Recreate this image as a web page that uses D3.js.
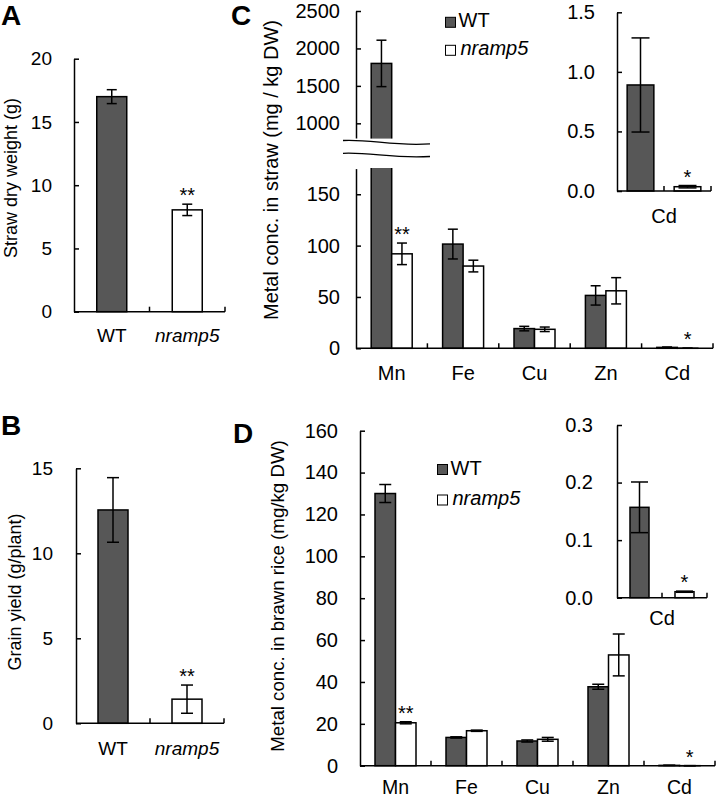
<!DOCTYPE html>
<html><head><meta charset="utf-8">
<script src="https://cdn.jsdelivr.net/npm/d3@7"></script>
<style>
body{margin:0;background:#fff}
svg{display:block}
text{font-family:Arial,"Liberation Sans",Helvetica,sans-serif;fill:#000}
</style>
</head><body>
<svg id="c" width="717" height="799"></svg>
<script>
// ---------- data ----------
const genotypes = ["WT", "nramp5"];
const strawWeight = [17.0, 8.05];
const strawWeightErr = [0.55, 0.45];
const strawWeightSig = ["", "**"];
const grainYield = [12.55, 1.42];
const grainYieldErr = [1.9, 0.83];
const grainYieldSig = ["", "**"];

const metals = ["Mn", "Fe", "Cu", "Zn", "Cd"];
const strawWT = [1800, 101.5, 19.2, 51.5, 0.89];
const strawWTErr = [310, 14.5, 2.2, 9.4, 0.395];
const strawMut = [92, 80.1, 18.5, 56, 0.036];
const strawMutErr = [10.5, 5.7, 2.2, 12.8, 0.01];
const strawMutSig = ["**", "", "", "", "*"];

const riceWT = [130, 13.5, 11.8, 37.7, 0.157];
const riceWTErr = [4.3, 0.3, 0.5, 1.2, 0.044];
const riceMut = [20.5, 16.7, 12.6, 52.9, 0.0104];
const riceMutErr = [0.5, 0.3, 0.9, 10, 0.001];
const riceMutSig = ["**", "", "", "", "*"];

const ticksA = [0, 5, 10, 15, 20];
const ticksB = [0, 5, 10, 15];
const ticksCLow = [0, 50, 100, 150];
const ticksCHigh = [1000, 1500, 2000, 2500];
const ticksCInset = [0, 0.5, 1.0, 1.5];
const ticksD = [0, 20, 40, 60, 80, 100, 120, 140, 160];
const ticksDInset = [0, 0.1, 0.2, 0.3];

const DARK = "#575757";
const svg = d3.select("#c");

// ---------- helpers ----------
function yAxis(g, scale, x, ticks, fmt, pad, fs) {
  const ax = g.append("g").attr("transform", `translate(${x},0)`)
    .call(d3.axisLeft(scale).tickValues(ticks).tickFormat(fmt)
      .tickSize(-5).tickSizeOuter(0).tickPadding(pad));
  ax.attr("font-family", null).attr("font-size", null);
  ax.selectAll("path,line").attr("stroke", "#000").attr("stroke-width", 1.5);
  ax.selectAll("text").attr("font-size", fs).style("fill", "#000");
  return ax;
}

function xAxis(g, band, y0) {
  const r = band.range();
  g.append("line").attr("x1", r[0]).attr("x2", r[1]).attr("y1", y0).attr("y2", y0)
    .attr("stroke", "#000").attr("stroke-width", 1.5);
  const bounds = d3.range(1, band.domain().length + 1).map(i => r[0] + i * band.step());
  g.selectAll(null).data(bounds).join("line")
    .attr("x1", d => d).attr("x2", d => d).attr("y1", y0).attr("y2", y0 - 5)
    .attr("stroke", "#000").attr("stroke-width", 1.5);
}

function bars(g, band, y, groups, barW, capW, starFs) {
  const n = groups.length;
  groups.forEach((s, si) => {
    const data = band.domain().map((c, i) => ({
      c, v: s.vals[i], e: s.errs[i],
      fill: typeof s.fill === "function" ? s.fill(i) : s.fill,
      star: s.stars ? s.stars[i] : ""
    }));
    const xl = d => band(d.c) + band.bandwidth() / 2 - n * barW / 2 + si * barW;
    const xc = d => xl(d) + barW / 2;
    g.selectAll(null).data(data).join("rect")
      .attr("x", xl).attr("width", barW)
      .attr("y", d => y(d.v)).attr("height", d => y(0) - y(d.v))
      .attr("fill", d => d.fill).attr("stroke", "#000").attr("stroke-width", 1.5);
    const eg = g.selectAll(null).data(data).join("g");
    eg.append("line").attr("x1", xc).attr("x2", xc)
      .attr("y1", d => y(d.v + d.e)).attr("y2", d => y(Math.max(0, d.v - d.e)))
      .attr("stroke", "#000").attr("stroke-width", 1.5);
    eg.append("line").attr("x1", d => xc(d) - capW / 2).attr("x2", d => xc(d) + capW / 2)
      .attr("y1", d => y(d.v + d.e)).attr("y2", d => y(d.v + d.e))
      .attr("stroke", "#000").attr("stroke-width", 1.5);
    eg.append("line").attr("x1", d => xc(d) - capW / 2).attr("x2", d => xc(d) + capW / 2)
      .attr("y1", d => y(Math.max(0, d.v - d.e))).attr("y2", d => y(Math.max(0, d.v - d.e)))
      .attr("stroke", "#000").attr("stroke-width", 1.5);
    g.selectAll(null).data(data.filter(d => d.star)).join("text")
      .attr("x", xc).attr("y", d => y(d.v + d.e) - 2)
      .attr("text-anchor", "middle").attr("font-size", starFs).text(d => d.star);
  });
}

function catLabels(g, band, y, fs, italicIdx) {
  g.selectAll(null).data(band.domain()).join("text")
    .attr("x", d => band(d) + band.bandwidth() / 2).attr("y", y)
    .attr("text-anchor", "middle").attr("font-size", fs)
    .attr("font-style", (d, i) => italicIdx.includes(i) ? "italic" : "normal")
    .text(d => d);
}

function yTitle(g, text, x, y, fs) {
  g.append("text").attr("transform", `translate(${x},${y}) rotate(-90)`)
    .attr("text-anchor", "middle").attr("font-size", fs).text(text);
}

function letter(text, x, y) {
  svg.append("text").attr("x", x).attr("y", y).attr("font-size", 28)
    .attr("font-weight", "bold").text(text);
}

function legend(g, x, y1, y2, fs) {
  const items = [{ t: genotypes[0], f: DARK, y: y1, it: false }, { t: genotypes[1], f: "#fff", y: y2, it: true }];
  items.forEach(d => {
    g.append("rect").attr("x", x).attr("y", d.y - 10).attr("width", 10).attr("height", 10)
      .attr("fill", d.f).attr("stroke", "#000").attr("stroke-width", 1);
    g.append("text").attr("x", x + (d.it ? 15 : 13)).attr("y", d.y).attr("font-size", fs)
      .attr("font-style", d.it ? "italic" : "normal").text(d.t);
  });
}

const fillGeno = i => i === 0 ? DARK : "#fff";

// ---------- Panel A ----------
{
  const g = svg.append("g");
  const y = d3.scaleLinear().domain([0, 20]).range([311.7, 58.7]);
  const band = d3.scaleBand().domain(genotypes).range([74, 225]);
  bars(g, band, y, [{ vals: strawWeight, errs: strawWeightErr, fill: fillGeno, stars: strawWeightSig }], 30, 10, 20);
  xAxis(g, band, y(0));
  yAxis(g, y, 74, ticksA, d3.format("d"), 22, 19);
  catLabels(g, band, 342, 19, [1]);
  yTitle(g, "Straw dry weight (g)", 16.5, 178, 18);
  letter("A", 1, 25);
}

// ---------- Panel B ----------
{
  const g = svg.append("g");
  const y = d3.scaleLinear().domain([0, 15]).range([723.3, 468.3]);
  const band = d3.scaleBand().domain(genotypes).range([76, 224]);
  bars(g, band, y, [{ vals: grainYield, errs: grainYieldErr, fill: fillGeno, stars: grainYieldSig }], 30, 12, 20);
  xAxis(g, band, y(0));
  yAxis(g, y, 76, ticksB, d3.format("d"), 23, 19);
  catLabels(g, band, 755, 19, [1]);
  yTitle(g, "Grain yield (g/plant)", 21, 592, 18);
  letter("B", 1, 435);
}

// ---------- Panel C ----------
{
  const g = svg.append("g");
  const low = d3.scaleLinear().domain([0, 175]).range([348.3, 168.6]);
  const high = d3.scaleLinear().domain([800, 2500]).range([138.3, 11]);
  const y = v => v <= 175 ? low(v) : high(v);
  const band = d3.scaleBand().domain(metals).range([356, 713]);
  bars(g, band, y, [
    { vals: strawWT, errs: strawWTErr, fill: DARK },
    { vals: strawMut, errs: strawMutErr, fill: "#fff", stars: strawMutSig }
  ], 20.5, 10, 20);
  xAxis(g, band, low(0));
  yAxis(g, low, 356, ticksCLow, d3.format("d"), 16, 20);
  yAxis(g, high, 356, ticksCHigh, d3.format("d"), 16, 20);
  // axis break
  g.append("rect").attr("x", 345).attr("y", 138.6).attr("width", 80).attr("height", 29.4).attr("fill", "#fff");
  g.append("path").attr("d", "M343,140.5 C370,139 395,146.5 430,143.8")
    .attr("fill", "none").attr("stroke", "#000").attr("stroke-width", 1.3);
  g.append("path").attr("d", "M343,153.3 C370,152 395,159 430,156.5")
    .attr("fill", "none").attr("stroke", "#000").attr("stroke-width", 1.3);
  catLabels(g, band, 380, 20, []);
  yTitle(g, "Metal conc. in straw (mg / kg DW)", 278, 170, 20);
  legend(g, 445.5, 27.3, 55.3, 20);
  letter("C", 231, 25);

  // inset
  const gi = svg.append("g");
  const yi = d3.scaleLinear().domain([0, 1.5]).range([191, 12.3]);
  const bi = d3.scaleBand().domain(genotypes).range([617, 711]);
  bars(gi, bi, yi, [{ vals: [strawWT[4], strawMut[4]], errs: [strawWTErr[4], strawMutErr[4]], fill: fillGeno, stars: ["", strawMutSig[4]] }], 26.7, 18, 20);
  xAxis(gi, bi, yi(0));
  yAxis(gi, yi, 617, ticksCInset, d3.format(".1f"), 22, 20);
  gi.append("text").attr("x", 664).attr("y", 223).attr("text-anchor", "middle").attr("font-size", 20).text(metals[4]);
}

// ---------- Panel D ----------
{
  const g = svg.append("g");
  const y = d3.scaleLinear().domain([0, 160]).range([765.7, 430.7]);
  const band = d3.scaleBand().domain(metals).range([360, 715]);
  bars(g, band, y, [
    { vals: riceWT, errs: riceWTErr, fill: DARK },
    { vals: riceMut, errs: riceMutErr, fill: "#fff", stars: riceMutSig }
  ], 20.5, 12, 20);
  xAxis(g, band, y(0));
  yAxis(g, y, 360, ticksD, d3.format("d"), 22, 20);
  catLabels(g, band, 794, 19.5, []);
  yTitle(g, "Metal conc. in brawn rice (mg/kg DW)", 284, 596, 18.7);
  legend(g, 437.5, 474.5, 505, 20);
  letter("D", 233, 443);

  // inset
  const gi = svg.append("g");
  const yi = d3.scaleLinear().domain([0, 0.3]).range([597.7, 425]);
  const bi = d3.scaleBand().domain(genotypes).range([617, 707]);
  bars(gi, bi, yi, [{ vals: [riceWT[4], riceMut[4]], errs: [riceWTErr[4], riceMutErr[4]], fill: fillGeno, stars: ["", riceMutSig[4]] }], 19, 17, 20);
  xAxis(gi, bi, yi(0));
  yAxis(gi, yi, 617, ticksDInset, d3.format(".1f"), 24, 20);
  gi.append("text").attr("x", 662).attr("y", 625).attr("text-anchor", "middle").attr("font-size", 20).text(metals[4]);
}
</script>
</body></html>
